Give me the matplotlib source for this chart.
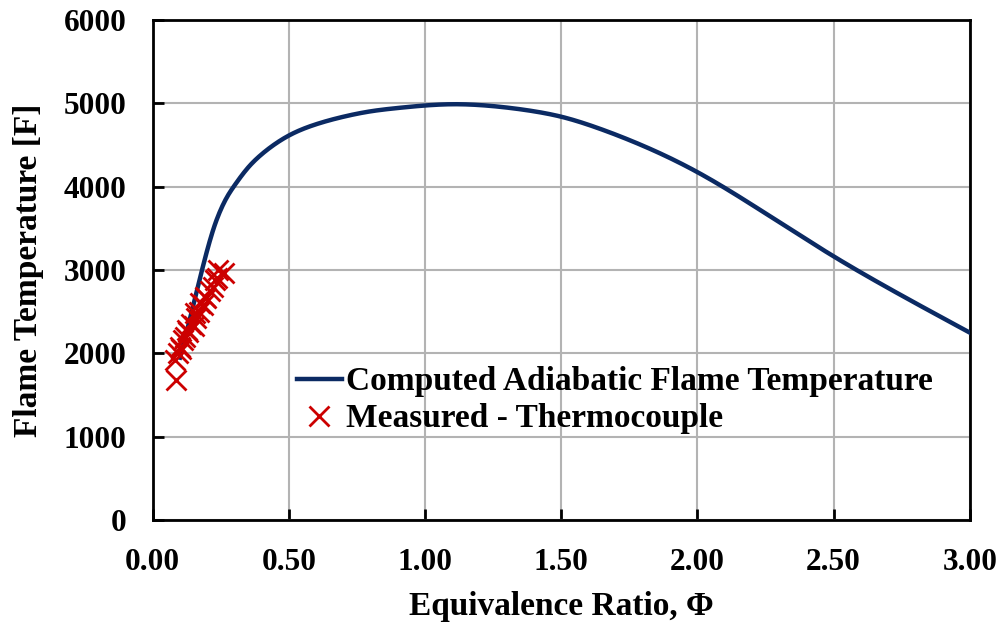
import matplotlib
matplotlib.use("Agg")
import matplotlib.pyplot as plt
import numpy as np

# Computed adiabatic flame temperature curve
phi_calc = [0.10, 0.13, 0.155, 0.18, 0.20, 0.225, 0.25, 0.275, 0.30, 0.35, 0.40, 0.45,
            0.50, 0.60, 0.70, 0.80, 0.90, 1.00, 1.10, 1.20, 1.30, 1.40, 1.50, 1.625,
            1.75, 2.00, 2.25, 2.50, 2.75, 3.00]
temp_calc = [1950, 2330, 2660, 2990, 3240, 3515, 3728, 3890, 4015, 4230, 4390, 4515,
             4615, 4750, 4840, 4905, 4945, 4975, 4990, 4980, 4950, 4905, 4840, 4715,
             4560, 4175, 3680, 3165, 2695, 2250]

# Measured thermocouple points
phi_meas = [0.085, 0.08, 0.093, 0.10, 0.105, 0.111, 0.12, 0.125, 0.13, 0.14, 0.15, 0.155,
            0.16, 0.17, 0.175, 0.185, 0.19, 0.197, 0.21, 0.222, 0.23, 0.235, 0.24, 0.26]
temp_meas = [1680, 1920, 2000, 2080, 2050, 2160, 2200, 2280, 2260, 2350, 2330, 2480,
             2420, 2500, 2600, 2580, 2680, 2660, 2750, 2800, 2880, 2900, 3000, 2960]

x_ticks = [0.0, 0.5, 1.0, 1.5, 2.0, 2.5, 3.0]
x_ticklabels = ["0.00", "0.50", "1.00", "1.50", "2.00", "2.50", "3.00"]
y_ticks = [0, 1000, 2000, 3000, 4000, 5000, 6000]

plt.rcParams['font.family'] = ['Liberation Serif', 'DejaVu Serif']
plt.rcParams['font.weight'] = 'bold'


def natural_spline(x, y, xn):
    x = np.asarray(x, float)
    y = np.asarray(y, float)
    n = len(x)
    h = np.diff(x)
    A = np.zeros((n, n))
    b = np.zeros(n)
    A[0, 0] = 1
    A[-1, -1] = 1
    for i in range(1, n - 1):
        A[i, i - 1] = h[i - 1]
        A[i, i] = 2 * (h[i - 1] + h[i])
        A[i, i + 1] = h[i]
        b[i] = 3 * ((y[i + 1] - y[i]) / h[i] - (y[i] - y[i - 1]) / h[i - 1])
    c = np.linalg.solve(A, b)
    bb = (y[1:] - y[:-1]) / h - h * (2 * c[:-1] + c[1:]) / 3
    d = (c[1:] - c[:-1]) / (3 * h)
    idx = np.clip(np.searchsorted(x, xn) - 1, 0, n - 2)
    t = xn - x[idx]
    return y[idx] + bb[idx] * t + c[idx] * t**2 + d[idx] * t**3


fig = plt.figure(figsize=(10.05, 6.26), dpi=100)
ax = fig.add_axes([0.152, 0.169, 0.813, 0.799])

xf = np.linspace(phi_calc[0], phi_calc[-1], 800)
yf = natural_spline(phi_calc, temp_calc, xf)

ax.plot(xf, yf, color='#0b2a63', lw=3.2, label='Computed Adiabatic Flame Temperature', zorder=3)
ax.plot(phi_meas, temp_meas, ls='none', marker='x', ms=15, mew=2, color='#cc0000',
        label='Measured - Thermocouple', zorder=4)

ax.set_xlim(0, 3)
ax.set_ylim(0, 6000)
ax.set_xticks(x_ticks)
ax.set_xticklabels(x_ticklabels)
ax.set_yticks(y_ticks)
ax.grid(True, color='#b3b3b3', lw=1.5)
ax.set_axisbelow(True)
for s in ax.spines.values():
    s.set_linewidth(2)
ax.tick_params(direction='in', length=8, width=2, labelsize=22.5)
ax.tick_params(axis='x', pad=20)
ax.tick_params(axis='y', pad=19)
for lab in ax.get_xticklabels() + ax.get_yticklabels():
    lab.set_fontweight('bold')

ax.set_xlabel('Equivalence Ratio, Φ', fontsize=24, fontweight='bold', labelpad=10)
ax.set_ylabel('Flame Temperature [F]', fontsize=24, fontweight='bold', labelpad=14)

leg = ax.legend(loc='lower left', bbox_to_anchor=(0.16, 0.145), frameon=False,
                prop={'family': 'Liberation Serif', 'weight': 'bold', 'size': 24},
                handlelength=1.35, handletextpad=0.12, labelspacing=0.18, borderaxespad=0)

fig.savefig('out.png', dpi=100)
